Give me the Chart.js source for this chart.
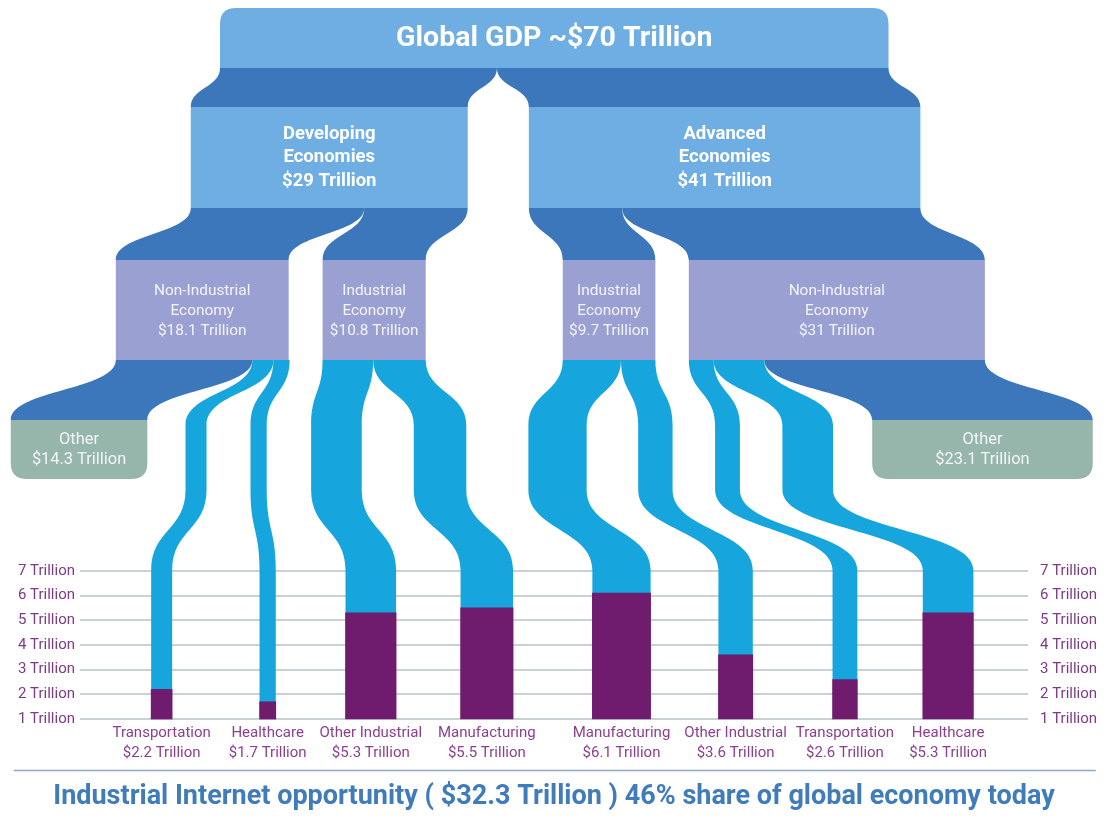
<!DOCTYPE html>
<html>
<head>
<meta charset="utf-8">
<title>Global GDP and the Industrial Internet</title>
<script src="https://cdn.jsdelivr.net/npm/chart.js@4.4.1/dist/chart.umd.min.js"></script>
<style>
  html, body { margin: 0; padding: 0; background: #fff; }
  #wrap { width: 1108px; height: 817px; position: relative; }
</style>
</head>
<body>
<div id="wrap"><canvas id="gdp-chart"></canvas></div>
<script>
// ---- data (trillions of US$) ----
const globalValue = 70;
const regionNames = [["Developing", "Economies"], ["Advanced", "Economies"]];
const regionValues = [29, 41];
const economyNames = [
  ["Non-Industrial", "Economy"], ["Industrial", "Economy"],
  ["Industrial", "Economy"], ["Non-Industrial", "Economy"]
];
const economyValues = [18.1, 10.8, 9.7, 31];
const economyRegion = [0, 0, 1, 1];
const otherValues = [14.3, 23.1];
const sectorNames = [
  "Transportation", "Healthcare", "Other Industrial", "Manufacturing",
  "Manufacturing", "Other Industrial", "Transportation", "Healthcare"
];
const sectorValues = [2.2, 1.7, 5.3, 5.5, 6.1, 3.6, 2.6, 5.3];
// what each economy box splits into: a sector index or the "other" box
const economyChildren = [["other", 0, 1], [2, 3], [4, 5], [6, 7, "other"]];
const yTicks = [1, 2, 3, 4, 5, 6, 7];
const footerText = "Industrial Internet opportunity ( $32.3 Trillion ) 46% share of global economy today";

// ---- layout ----
const FONT = 'Roboto, "Open Sans", sans-serif';
const AXIS_W = 80;
const PX_PER_T = 9.55;
const X_MAX = (1108 - 2 * AXIS_W) / PX_PER_T;
const Y_MIN = 0.88, Y_MAX = 7.4, BAR_BASE = 1;
const FOOTER_SIZE = 27;
const FOOTER_PAD = { top: 10, bottom: 4 };
const X_AXIS_H = 817 - (FOOTER_SIZE * 1.2 + FOOTER_PAD.top + FOOTER_PAD.bottom) - 722;

// horizontal positions in trillions on the x scale
const globalLeft = 14.66;
const regionLeft = [11.6, 47.0];
const economyLeft = [3.75, 25.4, 50.55, 63.75];
const otherCenter = [-0.1, 94.5];
const barCenter = [8.55, 19.65, 30.45, 42.6, 56.7, 68.65, 80.1, 90.9];
const flowColumn = [12.15, 18.7, 26.85, 37.7, 50.0, 60.25, 67.8, 76.2];

// vertical rows of the flow diagram (px)
const ROW = {
  gTop: 8, gBot: 68, rTop: 107, rBot: 208, eTop: 260, eBot: 360,
  oTop: 420, oBot: 479, colTop: 425, colBot: 490, bend: 570
};

const colors = {
  box: "#6eaee2",
  band: "#3b77ba",
  economy: "#9ba0d3",
  other: "#96b6ab",
  flow: "#17a5dd",
  bar: "#6f1b6e",
  grid: "#c9d0d6",
  yLabel: "#7d3a85",
  xLabel: "#8c3f90",
  footer: "#3f7cb9",
  rule: "#8ea9c0"
};

function roundedRect(ctx, x, y, w, h, r) {
  const [tl, tr, br, bl] = r;
  ctx.beginPath();
  ctx.moveTo(x + tl, y);
  ctx.lineTo(x + w - tr, y);
  ctx.quadraticCurveTo(x + w, y, x + w, y + tr);
  ctx.lineTo(x + w, y + h - br);
  ctx.quadraticCurveTo(x + w, y + h, x + w - br, y + h);
  ctx.lineTo(x + bl, y + h);
  ctx.quadraticCurveTo(x, y + h, x, y + h - bl);
  ctx.lineTo(x, y + tl);
  ctx.quadraticCurveTo(x, y, x + tl, y);
  ctx.closePath();
  ctx.fill();
}

function sCurve(ctx, p, q) {
  const ym = (p[1] + q[1]) / 2;
  ctx.bezierCurveTo(p[0], ym, q[0], ym, q[0], q[1]);
}

// band between a top segment [a0,a1] and a bottom segment [b0,b1]
function band(ctx, a0, a1, y0, b0, b1, y1) {
  ctx.beginPath();
  ctx.moveTo(a0, y0);
  sCurve(ctx, [a0, y0], [b0, y1]);
  ctx.lineTo(b1, y1);
  sCurve(ctx, [b1, y1], [a1, y0]);
  ctx.closePath();
  ctx.fill();
}

// constant width stream following the left edge waypoints
function stream(ctx, pts, w) {
  ctx.beginPath();
  ctx.moveTo(pts[0][0], pts[0][1]);
  for (let i = 1; i < pts.length; i++) sCurve(ctx, pts[i - 1], pts[i]);
  const last = pts[pts.length - 1];
  ctx.lineTo(last[0] + w, last[1]);
  for (let i = pts.length - 1; i > 0; i--) {
    sCurve(ctx, [pts[i][0] + w, pts[i][1]], [pts[i - 1][0] + w, pts[i - 1][1]]);
  }
  ctx.closePath();
  ctx.fill();
}

function textLines(ctx, lines, cx, cy, gap) {
  const start = cy - (lines.length - 1) * gap / 2;
  lines.forEach((t, i) => ctx.fillText(t, cx, start + i * gap));
}

const flowPlugin = {
  id: "gdpFlows",
  beforeDatasetsDraw(chart) {
    const ctx = chart.ctx;
    const xs = chart.scales.x;
    const ys = chart.scales.y;
    const px = v => xs.getPixelForValue(v);
    const wT = v => px(v) - px(0);

    ctx.save();

    // global -> regions
    ctx.fillStyle = colors.band;
    let cum = globalLeft;
    regionValues.forEach((v, i) => {
      band(ctx, px(cum), px(cum + v), ROW.gBot, px(regionLeft[i]), px(regionLeft[i] + v), ROW.rTop);
      cum += v;
    });

    // regions -> economies
    regionValues.forEach((rv, r) => {
      const kids = economyValues.map((v, e) => e).filter(e => economyRegion[e] === r);
      const sum = kids.reduce((s, e) => s + economyValues[e], 0);
      let c = regionLeft[r];
      kids.forEach(e => {
        const top = economyValues[e] * rv / sum;
        band(ctx, px(c), px(c + top), ROW.rBot, px(economyLeft[e]), px(economyLeft[e] + economyValues[e]), ROW.eTop);
        c += top;
      });
    });

    // economies -> other boxes and sector bars
    let otherIdx = 0;
    economyChildren.forEach((kids, e) => {
      let c = economyLeft[e];
      kids.forEach(k => {
        if (k === "other") {
          const v = otherValues[otherIdx];
          const oc = otherCenter[otherIdx];
          ctx.fillStyle = colors.band;
          band(ctx, px(c), px(c + v), ROW.eBot, px(oc - v / 2), px(oc + v / 2), ROW.oTop);
          otherIdx++;
          c += v;
        } else {
          const v = sectorValues[k];
          const w = wT(v);
          const colX = px(flowColumn[k]) - w / 2;
          const barX = px(barCenter[k]) - w / 2;
          ctx.fillStyle = colors.flow;
          stream(ctx, [
            [px(c), ROW.eBot],
            [colX, ROW.colTop],
            [colX, ROW.colBot],
            [barX, ROW.bend],
            [barX, ys.getPixelForValue(v) + 1]
          ], w);
          c += v;
        }
      });
    });

    // boxes
    const gx0 = px(globalLeft), gx1 = px(globalLeft + globalValue);
    ctx.fillStyle = colors.box;
    roundedRect(ctx, gx0, ROW.gTop, gx1 - gx0, ROW.gBot - ROW.gTop, [16, 16, 0, 0]);
    regionValues.forEach((v, i) => {
      ctx.fillRect(px(regionLeft[i]), ROW.rTop, wT(v), ROW.rBot - ROW.rTop);
    });
    ctx.fillStyle = colors.economy;
    economyValues.forEach((v, i) => {
      ctx.fillRect(px(economyLeft[i]), ROW.eTop, wT(v), ROW.eBot - ROW.eTop);
    });
    ctx.fillStyle = colors.other;
    otherValues.forEach((v, i) => {
      roundedRect(ctx, px(otherCenter[i] - v / 2), ROW.oTop, wT(v), ROW.oBot - ROW.oTop, [0, 0, 16, 16]);
    });

    // box texts
    ctx.textAlign = "center";
    ctx.textBaseline = "middle";
    ctx.fillStyle = "#ffffff";
    ctx.font = "bold 28.5px " + FONT;
    ctx.fillText("Global GDP ~$" + globalValue + " Trillion", (gx0 + gx1) / 2, (ROW.gTop + ROW.gBot) / 2 + 1);

    ctx.font = "bold 18.5px " + FONT;
    regionValues.forEach((v, i) => {
      const cx = px(regionLeft[i] + v / 2);
      textLines(ctx, [...regionNames[i], "$" + v + " Trillion"], cx, (ROW.rTop + ROW.rBot) / 2, 23.5);
    });

    ctx.fillStyle = "#f4f4fb";
    ctx.font = "15.4px " + FONT;
    economyValues.forEach((v, i) => {
      const cx = px(economyLeft[i] + v / 2);
      textLines(ctx, [...economyNames[i], "$" + v + " Trillion"], cx, (ROW.eTop + ROW.eBot) / 2 + 1, 20);
    });

    ctx.font = "16.4px " + FONT;
    otherValues.forEach((v, i) => {
      textLines(ctx, ["Other", "$" + v + " Trillion"], px(otherCenter[i]), (ROW.oTop + ROW.oBot) / 2, 20);
    });

    // rule above the footer
    const ruleY = xs.bottom;
    ctx.strokeStyle = colors.rule;
    ctx.lineWidth = 1.5;
    ctx.beginPath();
    ctx.moveTo(px(otherCenter[0] - otherValues[0] / 2) + 3, ruleY);
    ctx.lineTo(px(otherCenter[1] + otherValues[1] / 2) + 3, ruleY);
    ctx.stroke();

    ctx.restore();
  }
};

document.addEventListener("DOMContentLoaded", function () {
  const canvas = document.getElementById("gdp-chart");
  Chart.defaults.font.family = FONT;

  const datasets = sectorValues.map((v, i) => ({
    label: sectorNames[i],
    data: [{ x: barCenter[i], y: [BAR_BASE, v] }],
    backgroundColor: colors.bar,
    borderWidth: 0,
    barThickness: v * PX_PER_T,
    grouped: false,
    yAxisID: "y"
  }));

  const yTickSetup = scale => { scale.ticks = yTicks.map(v => ({ value: v })); };

  new Chart(canvas, {
    type: "bar",
    data: { datasets },
    options: {
      responsive: true,
      maintainAspectRatio: false,
      animation: false,
      layout: { padding: { top: 561, left: 0, right: 0, bottom: 0 } },
      plugins: {
        legend: { display: false },
        tooltip: { enabled: false },
        title: {
          display: true,
          position: "bottom",
          text: footerText,
          color: colors.footer,
          font: { size: FOOTER_SIZE, weight: "bold", lineHeight: 1.2 },
          padding: FOOTER_PAD
        }
      },
      scales: {
        x: {
          type: "linear",
          min: 0,
          max: X_MAX,
          offset: false,
          grid: { display: false, drawTicks: false },
          border: { display: false },
          afterBuildTicks: scale => { scale.ticks = barCenter.map(v => ({ value: v })); },
          afterFit: scale => { scale.height = X_AXIS_H; },
          ticks: {
            autoSkip: false,
            maxRotation: 0,
            minRotation: 0,
            padding: 1,
            color: colors.xLabel,
            font: { size: 15, lineHeight: 1.33 },
            callback: (value, i) => [sectorNames[i], "$" + sectorValues[i] + " Trillion"]
          }
        },
        y: {
          position: "left",
          min: Y_MIN,
          max: Y_MAX,
          afterBuildTicks: yTickSetup,
          afterFit: scale => { scale.width = AXIS_W; },
          grid: { color: colors.grid, lineWidth: 2, drawTicks: false },
          border: { display: false },
          ticks: { padding: 5, color: colors.yLabel, font: { size: 15 }, callback: v => v + " Trillion" }
        },
        y2: {
          position: "right",
          min: Y_MIN,
          max: Y_MAX,
          afterBuildTicks: yTickSetup,
          afterFit: scale => { scale.width = AXIS_W; },
          grid: { display: false, drawTicks: false },
          border: { display: false },
          ticks: { padding: 12, color: colors.yLabel, font: { size: 15 }, callback: v => v + " Trillion" }
        }
      }
    },
    plugins: [flowPlugin]
  });
});
</script>
</body>
</html>
